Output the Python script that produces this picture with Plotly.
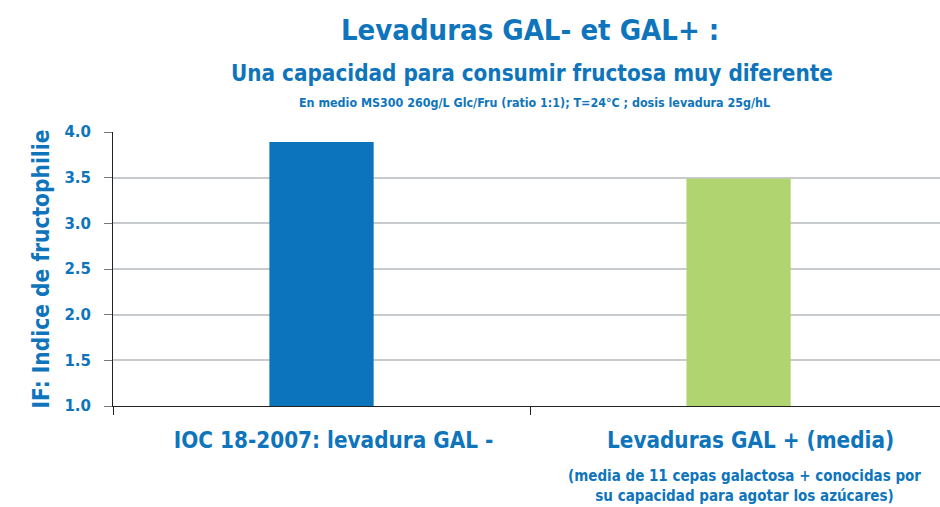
import plotly.graph_objects as go

categories = ["IOC 18-2007: levadura GAL -", "Levaduras GAL + (media)"]
values = [3.89, 3.49]
bar_colors = ["#0B74BC", "#B0D46F"]
note = "(media de 11 cepas galactosa + conocidas por<br>su capacidad para agotar los azúcares)"
title = "Levaduras GAL- et GAL+ :"
subtitle = "Una capacidad para consumir fructosa muy diferente"
subsubtitle = "En medio MS300 260g/L Glc/Fru (ratio 1:1); T=24°C ; dosis levadura 25g/hL"
y_title = "IF: Indice de fructophilie"
y_ticks = [1.0, 1.5, 2.0, 2.5, 3.0, 3.5, 4.0]

BLUE = "#0E75BC"
NARROW = "DejaVu Sans Condensed, Roboto, sans-serif"

xpos = list(range(len(categories)))

fig = go.Figure()
fig.add_trace(go.Bar(x=xpos, y=values, marker_color=bar_colors, width=0.25,
                     marker_line_width=0, base=0))

fig.update_layout(
    width=940, height=507,
    margin=dict(l=113, r=0, t=132, b=101),
    plot_bgcolor="white", paper_bgcolor="white",
    showlegend=False,
    xaxis=dict(range=[-0.5, 1.483], tickvals=xpos, ticktext=categories,
               ticks="", showgrid=False, zeroline=False, automargin=False,
               showline=True, linecolor="#222", linewidth=1,
               ticklabelstandoff=14, ticklabelshift=12,
               tickfont=dict(family=NARROW, size=22.3, color=BLUE, weight="bold"),
               minor=dict(tickvals=[-0.5, 0.5], ticks="outside", ticklen=8,
                          tickcolor="#222", showgrid=False)),
    yaxis=dict(range=[1, 4], tickvals=y_ticks, tickformat=".1f",
               ticks="outside", ticklen=8, tickcolor="#777", automargin=False,
               showgrid=True, gridcolor="#C8CBCE", gridwidth=1.5,
               zeroline=False, showline=True, linecolor="#222", linewidth=1,
               ticklabelstandoff=10,
               tickfont=dict(family="DejaVu Sans", size=15, color=BLUE, weight="bold"),
               title=dict(text=y_title, standoff=8,
                          font=dict(family=NARROW, size=22.5,
                                    color=BLUE, weight="bold"))),
)

annos = [
    (title, 530, 30, 29),
    (subtitle, 532, 73, 22.3),
    (subsubtitle, 534, 103, 12.4),
]
for txt, x, y, s in annos:
    fig.add_annotation(text=txt, x=(x - 113) / 827, y=(507 - 101 - y) / 274,
                       xref="paper", yref="paper", showarrow=False,
                       xanchor="center", yanchor="middle",
                       font=dict(family=NARROW, size=s, color=BLUE, weight="bold"))

fig.add_annotation(text=note, x=1, y=(507 - 101 - 465) / 274, xref="x", yref="paper",
                   xshift=6, showarrow=False, xanchor="center", yanchor="top",
                   align="center",
                   font=dict(family=NARROW, size=15, color=BLUE, weight="bold"))

fig.write_html("out.html", config={"displayModeBar": False},
               post_script="document.body.style.margin='0';")
